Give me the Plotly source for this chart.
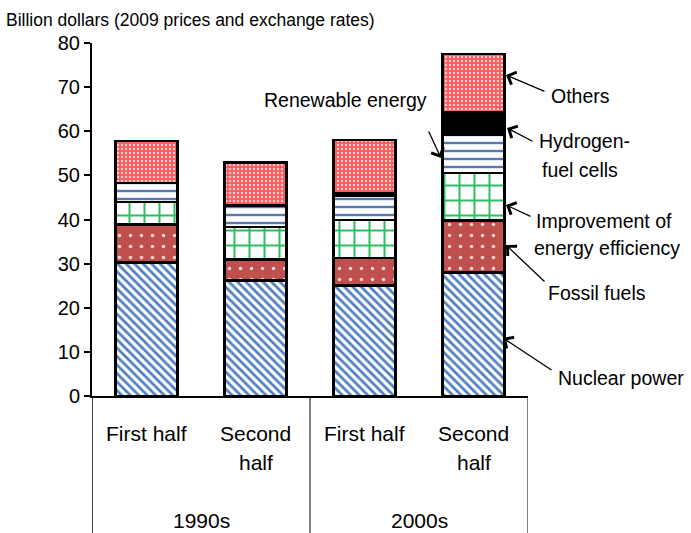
import plotly.graph_objects as go

# ---- data ----
periods = ["First half", "Second half", "First half", "Second half"]
decades = ["1990s", "2000s"]
nuclear = [30.3, 26.2, 25.1, 28.0]
fossil = [8.6, 4.7, 6.2, 11.8]
efficiency = [5.1, 7.4, 8.6, 10.7]
renewable = [4.3, 4.9, 5.4, 8.7]
hydrogen = [0.0, 0.0, 0.6, 5.0]
others = [9.5, 9.7, 12.1, 13.3]
y_ticks = [0, 10, 20, 30, 40, 50, 60, 70, 80]

FONT = "Liberation Sans"
W, H = 691, 533
L, R, T, B = 92, 163, 43, 137
PW, PH = W - L - R, H - T - B


def px(X):
    return (X - L) / PW


def py(Y):
    return (T + PH - Y) / PH


xs = list(range(len(periods)))

series = [
    ("Nuclear power", nuclear, dict(shape="\\", bgcolor="white", fgcolor="#4F7FC0", size=6, solidity=0.45)),
    ("Fossil fuels", fossil, dict(shape=".", bgcolor="#C0504D", fgcolor="#F4D6D5", size=11, solidity=0.08)),
    ("Improvement of energy efficiency", efficiency, dict(shape="+", bgcolor="white", fgcolor="#2EBE60", size=15, solidity=0.25)),
    ("Renewable energy", renewable, dict(shape="-", bgcolor="white", fgcolor="#5A78A8", size=8, solidity=0.3)),
    ("Hydrogen-fuel cells", hydrogen, dict(shape="", bgcolor="black", fgcolor="black")),
    ("Others", others, dict(shape=".", bgcolor="#FF5A5A", fgcolor="#FFD0D0", size=4, solidity=0.3)),
]

fig = go.Figure()
for name, vals, pat in series:
    p = dict(pat)
    p["fillmode"] = "replace"
    fig.add_trace(go.Bar(
        x=xs, y=vals, name=name,
        marker=dict(color=p["bgcolor"] if p["shape"] == "" else p["fgcolor"],
                    pattern=p,
                    line=dict(color="black", width=2.5)),
        showlegend=False,
    ))

fig.update_layout(
    barmode="stack",
    bargap=0.43,
    width=W, height=H,
    margin=dict(l=L, r=R, t=T, b=B, pad=0),
    paper_bgcolor="white",
    plot_bgcolor="white",
    font=dict(family=FONT, color="black"),
    xaxis=dict(range=[-0.5, 3.5], showticklabels=False, ticks="",
               showline=True, linecolor="black", linewidth=2, showgrid=False, zeroline=False),
    yaxis=dict(range=[0, 80], tickvals=y_ticks, ticks="outside", ticklen=6, tickwidth=1.5,
               tickcolor="black", showline=True, linecolor="black", linewidth=2,
               showgrid=False, zeroline=False, tickfont=dict(size=20, family=FONT)),
)

# category box lines below the axis
for xv in [-0.5, 1.5, 3.5]:
    fig.add_shape(type="line", xref="x", yref="paper", x0=xv, x1=xv, y0=0, y1=-B / PH,
                  line=dict(color="black", width=1.5 if xv == -0.5 else 1))

ann = []
cat_lines = [["First half"], ["Second", "half"], ["First half"], ["Second", "half"]]
for i, lines in enumerate(cat_lines):
    for k, t in enumerate(lines):
        ann.append(dict(x=i, y=py(434 + 29 * k), xref="x", yref="paper", text=t, showarrow=False,
                        yanchor="middle", xanchor="center", font=dict(size=21)))
for j, d in enumerate(decades):
    ann.append(dict(x=0.5 + 2 * j, y=py(520), xref="x", yref="paper", text=d, showarrow=False,
                    yanchor="middle", xanchor="center", font=dict(size=21)))

ann.append(dict(x=px(4), y=py(20), xref="paper", yref="paper", xanchor="left", yanchor="middle",
                text="Billion dollars (2009 prices and exchange rates)", showarrow=False,
                font=dict(size=17.5)))

labels = [
    ("Others", 549, 96),
    ("Hydrogen-", 537, 141),
    ("fuel cells", 540, 170),
    ("Improvement of", 534, 221),
    ("energy efficiency", 532, 248),
    ("Fossil fuels", 546, 293),
    ("Nuclear power", 556, 378),
    ("Renewable energy", 262, 100),
]
for text, X, Y in labels:
    ann.append(dict(x=px(X), y=py(Y), xref="paper", yref="paper", xanchor="left", yanchor="middle",
                    text=text, showarrow=False, align="left", font=dict(size=19.5)))

arrows = [
    ((506, 75), (546, 92)),
    ((507, 128), (534, 142)),
    ((506, 205), (532, 217)),
    ((506, 245), (546, 283)),
    ((503, 338), (553, 371)),
    ((441, 158), (428, 130)),
]
for (hx, hy), (tx, ty) in arrows:
    ann.append(dict(x=px(hx), y=py(hy), xref="paper", yref="paper", text="", showarrow=True,
                    ax=tx - hx, ay=ty - hy, axref="pixel", ayref="pixel",
                    arrowhead=4, arrowsize=2, arrowwidth=1.3, arrowcolor="black", standoff=0))

fig.update_layout(annotations=ann)
fig.write_html("out.html", config={"displayModeBar": False},
               post_script="document.body.style.margin='0';document.body.style.overflow='hidden';")
